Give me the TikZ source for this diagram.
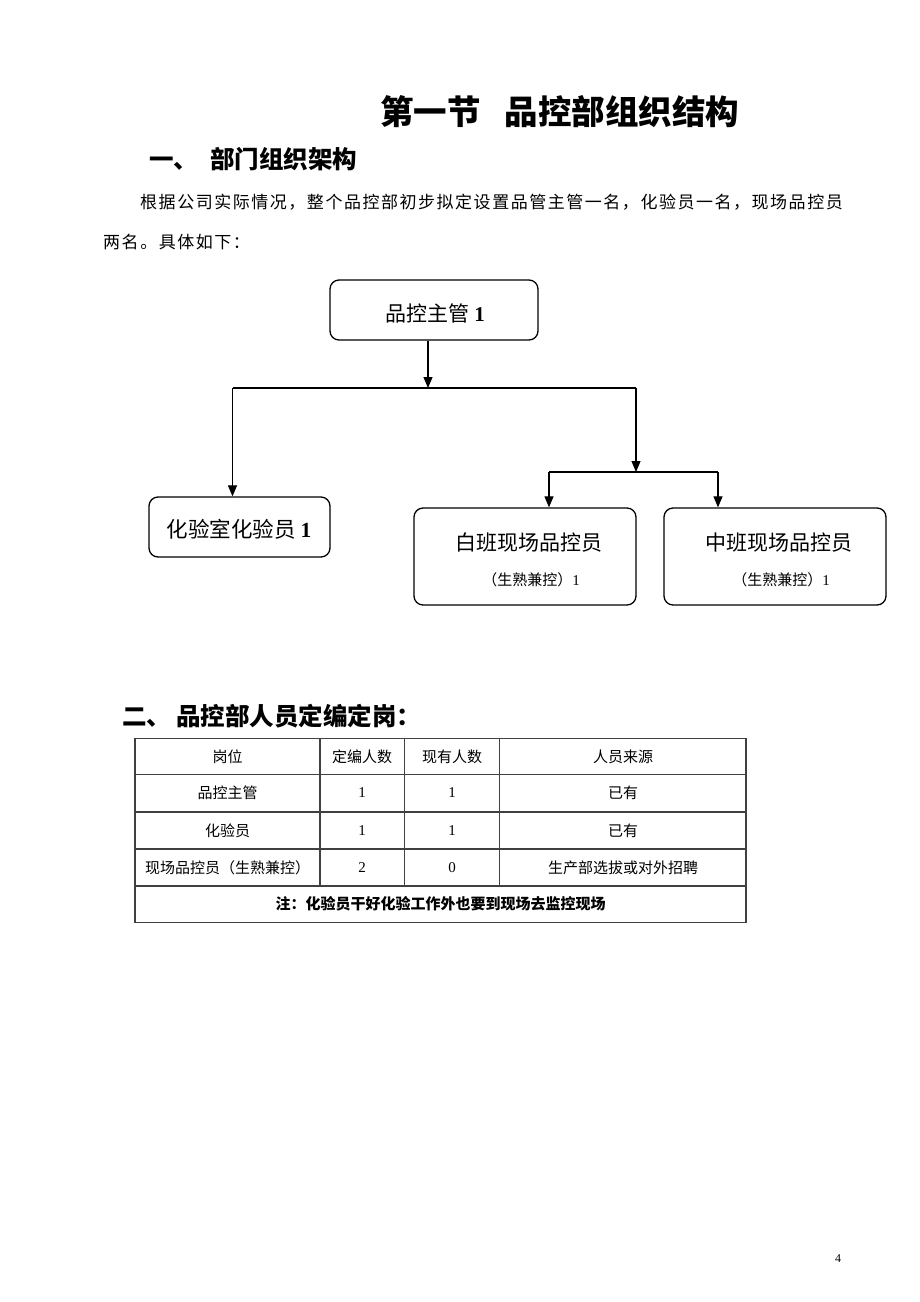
\documentclass[tikz,border=0pt]{standalone}
\usepackage{fontspec}
\setmainfont{Liberation Serif}
\newfontfamily\cjk{Noto Sans CJK SC}
\newfontfamily\cjkspaced[LetterSpace=9]{Noto Sans CJK SC}
\usetikzlibrary{arrows.meta}
\newcommand\fsz[1]{\fontsize{#1}{#1}\selectfont}
\begin{document}
\begin{tikzpicture}[x=1pt,y=-1pt,
  box/.style={draw=black, line width=1.3pt, rounded corners=9pt, inner sep=0pt},
  conn/.style={line width=1.2pt, draw=black},
  arr/.style={conn, -{Triangle[length=11pt,width=9pt]}},
  boxtext/.style={inner sep=0pt, font=\cjk\fsz{21}},
  subtext/.style={inner sep=0pt, font=\cjk\fsz{15}},
  cell/.style={inner sep=0pt, font=\cjk\fsz{15}},
  grid/.style={draw=black!75, line width=1.1pt},
  head/.style={inner sep=0pt, anchor=west, font=\cjk\bfseries\fsz{24.5}},
]
\useasboundingbox[fill=white] (0,0) rectangle (920,1302);

% title
\node[inner sep=0pt, anchor=west, font=\cjk\bfseries\fsz{33.5}] (title) at (380,112) {第一节\hspace{24pt}品控部组织结构};
% heading 1
\node[head] (h1) at (149,159) {一、\hspace{12pt}部门组织架构};
% paragraph
\node[inner sep=0pt, anchor=west, font=\cjkspaced\fsz{17}] (p1) at (140,202) {根据公司实际情况，整个品控部初步拟定设置品管主管一名，化验员一名，现场品控员};
\node[inner sep=0pt, anchor=west, font=\cjkspaced\fsz{17}] (p2) at (103,242) {两名。具体如下：};

% org chart boxes
\node[box, minimum width=208pt, minimum height=60pt] (top) at (434,310) {};
\node[boxtext] (toptxt) at (435,313) {品控主管\hspace{5pt}{\rmfamily\bfseries 1}};
\node[box, minimum width=181pt, minimum height=60pt] (left) at (239.5,527) {};
\node[boxtext, font=\cjk\fsz{21.5}] (lefttxt) at (239,529) {化验室化验员\hspace{5pt}{\rmfamily\bfseries 1}};
\node[box, minimum width=222pt, minimum height=97pt] (bai) at (525,556.5) {};
\node[boxtext] (baitxt) at (529,543) {白班现场品控员};
\node[subtext] (baisub) at (531,580) {（生熟兼控）{\rmfamily 1}};
\node[box, minimum width=222pt, minimum height=97pt] (zhong) at (775,556.5) {};
\node[boxtext] (zhongtxt) at (779,543) {中班现场品控员};
\node[subtext] (zhongsub) at (781,580) {（生熟兼控）{\rmfamily 1}};

% connectors
\coordinate (j1) at (428,388);
\coordinate (hl) at (232.5,388);
\coordinate (hr) at (636,388);
\coordinate (j2) at (636,472);
\coordinate (h2l) at (549,472);
\coordinate (h2r) at (718,472);
\draw[arr] (top.south -| j1) -- (j1);
\draw[conn] (hl) -- (hr);
\draw[arr] (hl) -- (left.north -| hl);
\draw[arr] (hr) -- (j2);
\draw[conn] (h2l) -- (h2r);
\draw[arr] (h2l) -- (bai.north -| h2l);
\draw[arr] (h2r) -- (zhong.north -| h2r);

% heading 2
\node[head] (h2) at (122,716) {二、\hspace{5pt}品控部人员定编定岗：};

% table grid
\draw[grid] (135,738.5) rectangle (746,922.5);
\foreach \yy in {774.5,812,849,886}
  \draw[grid] (135,\yy) -- (746,\yy);
\foreach \xx in {320,404.5,499.5}
  \draw[grid] (\xx,738.5) -- (\xx,886);

% table text
\node[cell] (c11) at (227.5,756.5) {岗位};
\node[cell] (c12) at (362,756.5) {定编人数};
\node[cell] (c13) at (452,756.5) {现有人数};
\node[cell] (c14) at (623,756.5) {人员来源};
\node[cell] (c21) at (227.5,793) {品控主管};
\node[cell, font=\rmfamily\fsz{15}] (c22) at (362,793) {1};
\node[cell, font=\rmfamily\fsz{15}] (c23) at (452,793) {1};
\node[cell] (c24) at (623,793) {已有};
\node[cell] (c31) at (227.5,830.5) {化验员};
\node[cell, font=\rmfamily\fsz{15}] (c32) at (362,830.5) {1};
\node[cell, font=\rmfamily\fsz{15}] (c33) at (452,830.5) {1};
\node[cell] (c34) at (623,830.5) {已有};
\node[cell] (c41) at (227.5,867.5) {现场品控员（生熟兼控）};
\node[cell, font=\rmfamily\fsz{15}] (c42) at (362,867.5) {2};
\node[cell, font=\rmfamily\fsz{15}] (c43) at (452,867.5) {0};
\node[cell] (c44) at (623,867.5) {生产部选拔或对外招聘};
\node[cell, font=\cjk\bfseries\fsz{15}] (note) at (440.5,904) {注：化验员干好化验工作外也要到现场去监控现场};

% page number
\node[inner sep=0pt, font=\rmfamily\fsz{12}] (pg) at (838,1259) {4};
\end{tikzpicture}
\end{document}
